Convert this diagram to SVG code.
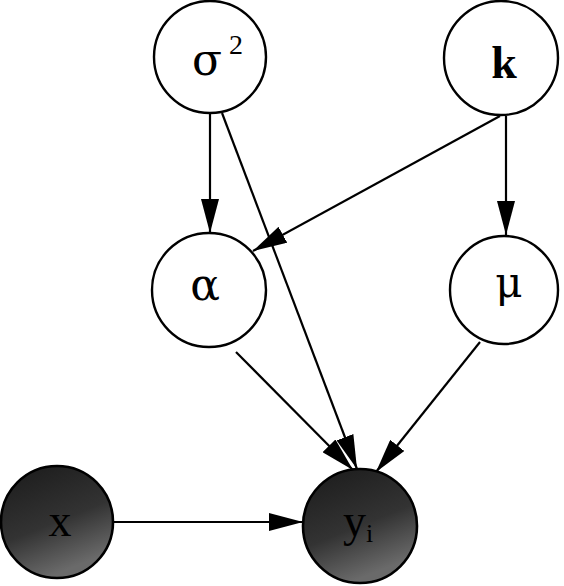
<svg xmlns="http://www.w3.org/2000/svg" width="564" height="586" viewBox="0 0 564 586">
<style>
.node{fill:#fff;stroke:#000;stroke-width:2.4}
.obs{fill:url(#shade);stroke:#000;stroke-width:2.6}
.lbl{font-family:"Liberation Serif","DejaVu Serif",serif;fill:#000}
.grk{font-family:"DejaVu Serif","Liberation Serif",serif;fill:#000}
.edge{stroke:#000;stroke-width:2.2;fill:none;marker-end:url(#arr)}
</style>
<defs>
<marker id="arr" viewBox="0 0 34 18" refX="34" refY="9" markerWidth="34" markerHeight="18" orient="auto" markerUnits="userSpaceOnUse">
<path d="M0,0 L34,9 L0,18 Z" fill="#000"/>
</marker>
<linearGradient id="shade" x1="0" y1="0" x2="0.4" y2="1">
<stop offset="0" stop-color="#1a1a1a"/>
<stop offset="0.6" stop-color="#333"/>
<stop offset="1" stop-color="#6a6a6a"/>
</linearGradient>
</defs>
<g id="edges">
<line class="edge" x1="210" y1="114" x2="210" y2="233"/>
<line class="edge" x1="506" y1="116" x2="506" y2="235"/>
<line class="edge" x1="222" y1="113" x2="357" y2="469"/>
<line class="edge" x1="500" y1="116" x2="253" y2="251"/>
<line class="edge" x1="236" y1="352" x2="353" y2="470"/>
<line class="edge" x1="480" y1="342" x2="376" y2="472"/>
<line class="edge" x1="113" y1="522" x2="303" y2="522"/>
</g>
<g id="sigma2">
<circle class="node" cx="210" cy="57" r="56"/>
<text class="grk" x="192" y="75" font-size="44">σ</text>
<text class="lbl" x="229" y="54" font-size="28">2</text>
</g>
<g id="k">
<circle class="node" cx="501" cy="58" r="57"/>
<text class="lbl" x="504" y="78" font-size="46" font-weight="bold" text-anchor="middle">k</text>
</g>
<g id="alpha">
<circle class="node" cx="209" cy="290" r="57"/>
<text class="grk" x="205" y="300" font-size="44" text-anchor="middle">α</text>
</g>
<g id="mu">
<circle class="node" cx="504" cy="290" r="54"/>
<text class="grk" x="509" y="297" font-size="42" text-anchor="middle">μ</text>
</g>
<g id="x">
<circle class="obs" cx="57" cy="522" r="56"/>
<text class="lbl" x="60" y="536" font-size="46" text-anchor="middle" fill="#0a0a0a">x</text>
</g>
<g id="y">
<circle class="obs" cx="360" cy="526" r="57"/>
<text class="lbl" x="358" y="536" font-size="46" text-anchor="middle" fill="#0a0a0a">y<tspan font-size="26" dy="6">i</tspan></text>
</g>
</svg>
